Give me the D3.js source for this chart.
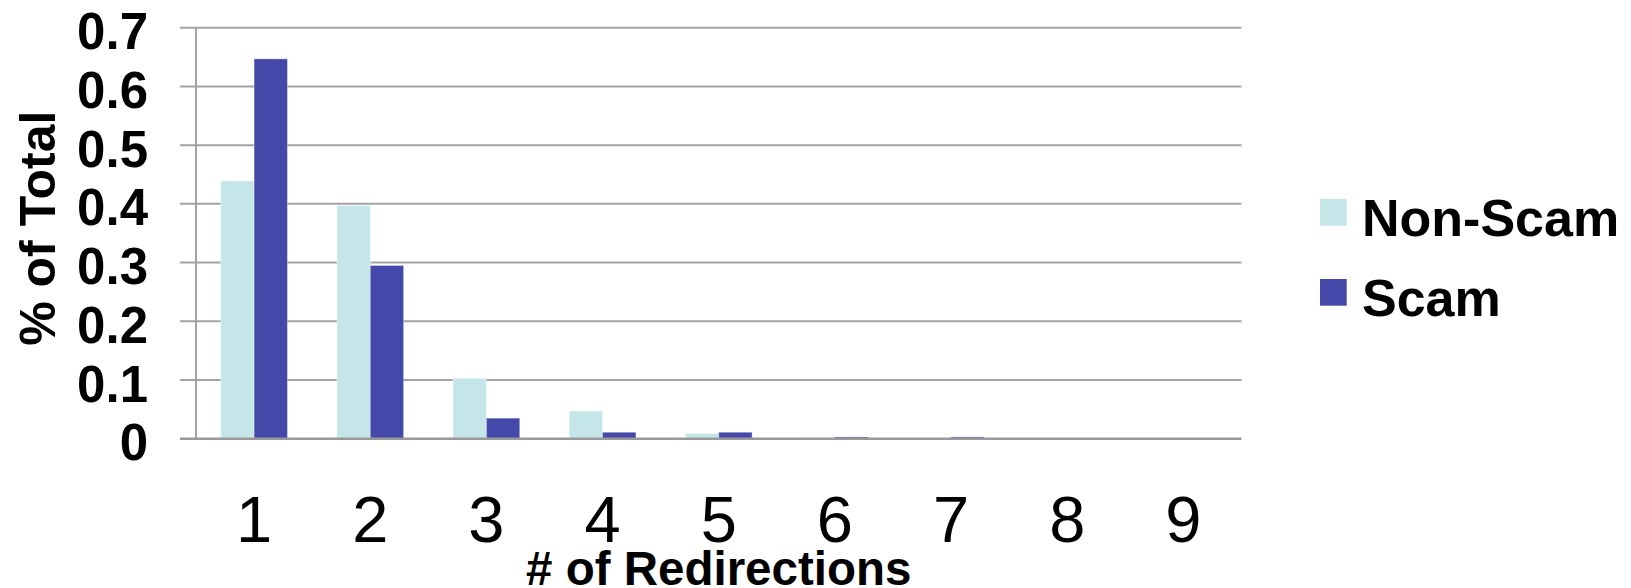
<!DOCTYPE html>
<html>
<head>
<meta charset="utf-8">
<script src="https://cdn.jsdelivr.net/npm/d3@7"></script>
<style>
  html, body { margin: 0; padding: 0; background: #ffffff; }
  svg { display: block; font-family: "Liberation Sans", Arial, Helvetica, sans-serif; }
</style>
</head>
<body>
<svg id="chart" width="1631" height="588"></svg>
<script>
const categories = ["1", "2", "3", "4", "5", "6", "7", "8", "9"];
const seriesNames = ["Non-Scam", "Scam"];
const nonScam = [0.439, 0.397, 0.103, 0.047, 0.009, 0.0015, 0.001, 0, 0.001];
const scam    = [0.647, 0.295, 0.035, 0.011, 0.011, 0.003, 0.003, 0, 0];
const yTicks  = [0, 0.1, 0.2, 0.3, 0.4, 0.5, 0.6, 0.7];
const colors  = ["#C5E6E8", "#4449A9"];

const svg = d3.select("#chart");
const plotLeft = 196, plotRight = 1241.5, plotTop = 27.7, plotBottom = 438.7;

const x0 = d3.scaleBand().domain(categories).range([plotLeft, plotRight])
  .paddingInner(0.426).paddingOuter(0.213);
const x1 = d3.scaleBand().domain(seriesNames).range([0, x0.bandwidth()]).padding(0);
const y = d3.scaleLinear().domain([0, 0.7]).range([plotBottom, plotTop]);

// gridlines
svg.append("g").selectAll("line").data(yTicks.filter(d => d > 0)).join("line")
  .attr("x1", plotLeft - 16).attr("x2", plotRight)
  .attr("y1", d => y(d)).attr("y2", d => y(d))
  .attr("stroke", "#A3A3A3").attr("stroke-width", 2);

// bars
const rows = categories.map((c, i) => ({ cat: c, vals: [nonScam[i], scam[i]] }));
const groups = svg.append("g").selectAll("g").data(rows).join("g")
  .attr("transform", d => `translate(${x0(d.cat)},0)`);
groups.selectAll("rect").data(d => d.vals.map((v, j) => ({ key: seriesNames[j], v, j })))
  .join("rect")
  .attr("x", d => x1(d.key))
  .attr("width", x1.bandwidth())
  .attr("y", d => y(d.v))
  .attr("height", d => plotBottom - y(d.v))
  .attr("fill", d => colors[d.j])
  .attr("stroke", "#ffffff").attr("stroke-opacity", 0.35).attr("stroke-width", 1);

// y axis line
svg.append("line").attr("x1", plotLeft).attr("x2", plotLeft).attr("y1", plotTop).attr("y2", plotBottom)
  .attr("stroke", "#A3A3A3").attr("stroke-width", 2);
// x axis line (baseline)
svg.append("line").attr("x1", plotLeft - 16).attr("x2", plotRight).attr("y1", plotBottom).attr("y2", plotBottom)
  .attr("stroke", "#999999").attr("stroke-width", 2.5);

// y tick labels
svg.append("g").selectAll("text").data(yTicks).join("text")
  .attr("x", 148).attr("y", d => y(d) + 21.6)
  .attr("text-anchor", "end")
  .attr("font-size", 51).attr("font-weight", "bold").attr("fill", "#000")
  .text(d => d3.format("")(d));

// x tick labels
svg.append("g").selectAll("text").data(categories).join("text")
  .attr("x", d => x0(d) + x0.bandwidth() / 2).attr("y", 541.7)
  .attr("text-anchor", "middle")
  .attr("font-size", 65).attr("fill", "#000")
  .text(d => d);

// axis titles
svg.append("text")
  .attr("x", (plotLeft + plotRight) / 2).attr("y", 585)
  .attr("text-anchor", "middle").attr("font-size", 47.5).attr("font-weight", "bold")
  .text("# of Redirections");
svg.append("text")
  .attr("transform", `translate(55,${(plotTop + plotBottom) / 2 - 5}) rotate(-90)`)
  .attr("text-anchor", "middle").attr("font-size", 50).attr("font-weight", "bold")
  .text("% of Total");

// legend
const legend = svg.append("g").selectAll("g").data(seriesNames).join("g")
  .attr("transform", (d, i) => `translate(1320,${199 + i * 80})`);
legend.append("rect").attr("width", 26.7).attr("height", 26.7)
  .attr("fill", (d, i) => colors[i]);
legend.append("text").attr("x", 42).attr("y", 36.7)
  .attr("font-size", 52).attr("font-weight", "bold").text(d => d);
</script>
</body>
</html>
